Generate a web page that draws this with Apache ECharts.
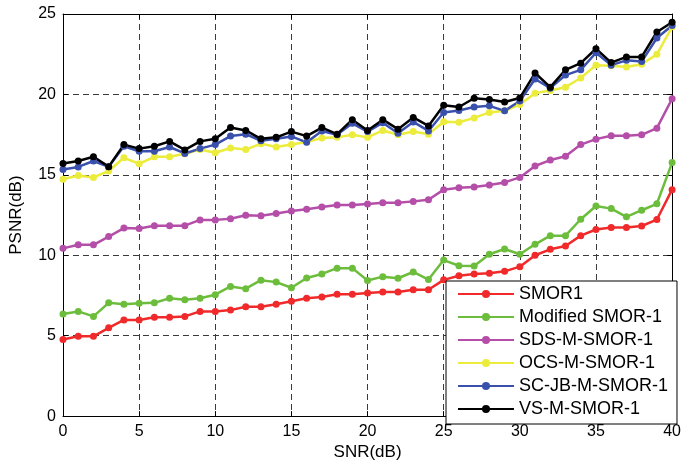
<!DOCTYPE html>
<html>
<head>
<meta charset="utf-8">
<script src="https://cdn.jsdelivr.net/npm/echarts@6/dist/echarts.min.js"></script>
<style>
  html, body { margin: 0; padding: 0; background: #fff; }
  #chart { width: 684px; height: 466px; }
</style>
</head>
<body>
<div id="chart"></div>
<script>
// SNR sweep (dB)
const snr = [0,1,2,3,4,5,6,7,8,9,10,11,12,13,14,15,16,17,18,19,20,
             21,22,23,24,25,26,27,28,29,30,31,32,33,34,35,36,37,38,39,40];

const xTicks = [0, 5, 10, 15, 20, 25, 30, 35, 40];
const yTicks = [0, 5, 10, 15, 20, 25];

// PSNR (dB) of each filter
const smor1 = [4.76,4.96,4.96,5.49,5.98,5.98,6.14,6.14,6.20,6.51,6.51,6.59,6.80,6.80,6.96,7.14,7.33,7.41,7.57,7.57,7.65,
               7.71,7.71,7.86,7.86,8.47,8.73,8.84,8.88,9.00,9.29,10.00,10.37,10.57,11.22,11.60,11.73,11.73,11.82,12.22,14.08];
const modifiedSmor1 = [6.35,6.51,6.20,7.04,6.96,7.02,7.04,7.33,7.24,7.33,7.55,8.06,7.92,8.45,8.33,7.98,8.59,8.84,9.20,9.20,8.43,
               8.67,8.57,8.96,8.49,9.70,9.35,9.33,10.06,10.39,10.06,10.68,11.22,11.22,12.24,13.06,12.90,12.39,12.80,13.20,15.76];
const sdsMSmor1 = [10.43,10.65,10.65,11.16,11.69,11.67,11.84,11.84,11.84,12.20,12.20,12.27,12.49,12.45,12.60,12.75,12.86,13.00,13.12,13.12,13.18,
               13.27,13.27,13.35,13.45,14.08,14.20,14.25,14.37,14.53,14.84,15.55,15.92,16.16,16.88,17.22,17.43,17.43,17.49,17.90,19.73];
const ocsMSmor1 = [14.73,14.96,14.84,15.24,16.06,15.69,16.12,16.12,16.31,16.57,16.37,16.67,16.57,16.94,16.73,16.88,17.04,17.29,17.33,17.49,17.33,
               17.76,17.49,17.69,17.53,18.30,18.27,18.54,18.88,18.98,19.37,20.08,20.24,20.45,21.02,21.82,21.78,21.71,21.88,22.49,24.20];
const scJbMSmor1 = [15.33,15.49,15.86,15.50,16.78,16.47,16.47,16.73,16.33,16.63,16.88,17.41,17.53,17.12,17.24,17.39,17.02,17.73,17.49,18.20,17.69,
               18.24,17.59,18.29,17.73,18.88,19.00,19.22,19.29,18.98,19.59,20.96,20.39,21.20,21.53,22.59,21.82,22.12,22.04,23.51,24.29];
const vsMSmor1 = [15.71,15.86,16.12,15.51,16.88,16.63,16.78,17.08,16.55,17.08,17.24,17.94,17.76,17.24,17.33,17.69,17.41,17.94,17.53,18.43,17.76,
               18.43,17.84,18.57,18.04,19.33,19.22,19.76,19.69,19.53,19.78,21.33,20.45,21.53,21.94,22.84,21.98,22.33,22.33,23.88,24.49];

const seriesDefs = [
  { name: 'SMOR1',            values: smor1,         color: '#f02a2a' },
  { name: 'Modified SMOR-1',  values: modifiedSmor1, color: '#6cbd3c' },
  { name: 'SDS-M-SMOR-1',     values: sdsMSmor1,     color: '#b44ea8' },
  { name: 'OCS-M-SMOR-1',     values: ocsMSmor1,     color: '#ecec3c' },
  { name: 'SC-JB-M-SMOR-1',   values: scJbMSmor1,    color: '#3a50ad' },
  { name: 'VS-M-SMOR-1',      values: vsMSmor1,      color: '#000000' }
];

const FONT = 'Liberation Sans, Arial, sans-serif';

const chart = echarts.init(document.getElementById('chart'), null, { renderer: 'canvas' });

const baseX = {
  type: 'value', min: xTicks[0], max: xTicks[xTicks.length - 1], interval: 5,
  axisLine: { show: true, onZero: false, lineStyle: { color: '#000', width: 1 } },
  axisTick: { show: true, inside: true, length: 5, lineStyle: { color: '#000' } }
};
const baseY = {
  type: 'value', min: yTicks[0], max: yTicks[yTicks.length - 1], interval: 5,
  axisLine: { show: true, onZero: false, lineStyle: { color: '#000', width: 1 } },
  axisTick: { show: true, inside: true, length: 5, lineStyle: { color: '#000' } }
};

chart.setOption({
  backgroundColor: '#fff',
  animation: false,
  grid: { left: 62, right: 10, top: 14, bottom: 41, show: false },
  legend: {
    orient: 'vertical',
    left: 446, top: 281,
    backgroundColor: '#fff',
    borderColor: '#000', borderWidth: 1, borderRadius: 0,
    padding: [4, 9, 6, 11],
    itemWidth: 56, itemHeight: 10, itemGap: 5,
    textStyle: { fontFamily: FONT, fontSize: 18, color: '#000', lineHeight: 18 },
    data: seriesDefs.map(s => s.name)
  },
  xAxis: [
    Object.assign({}, baseX, {
      position: 'bottom',
      name: 'SNR(dB)', nameLocation: 'middle', nameGap: 25,
      nameTextStyle: { fontFamily: FONT, fontSize: 17, color: '#000' },
      axisLabel: { fontFamily: FONT, fontSize: 16, color: '#000', margin: 7 },
      splitLine: { show: true, lineStyle: { color: '#3a3a3a', type: [6, 4], width: 1 } }
    }),
    Object.assign({}, baseX, {
      position: 'top', axisLabel: { show: false }, splitLine: { show: false }
    })
  ],
  yAxis: [
    Object.assign({}, baseY, {
      position: 'left',
      name: 'PSNR(dB)', nameLocation: 'middle', nameGap: 38,
      nameTextStyle: { fontFamily: FONT, fontSize: 17, color: '#000' },
      axisLabel: { fontFamily: FONT, fontSize: 16, color: '#000', margin: 7 },
      splitLine: { show: true, lineStyle: { color: '#3a3a3a', type: [6, 4], width: 1 } }
    }),
    Object.assign({}, baseY, {
      position: 'right', axisLabel: { show: false }, splitLine: { show: false }
    })
  ],
  series: seriesDefs.map(s => ({
    name: s.name,
    type: 'line',
    xAxisIndex: 0, yAxisIndex: 0,
    data: snr.map((x, i) => [x, s.values[i]]),
    symbol: 'circle', symbolSize: 7,
    showAllSymbol: true,
    lineStyle: { color: s.color, width: 2.5 },
    itemStyle: { color: s.color, borderWidth: 0 },
    emphasis: { disabled: true }
  }))
});
</script>
</body>
</html>
